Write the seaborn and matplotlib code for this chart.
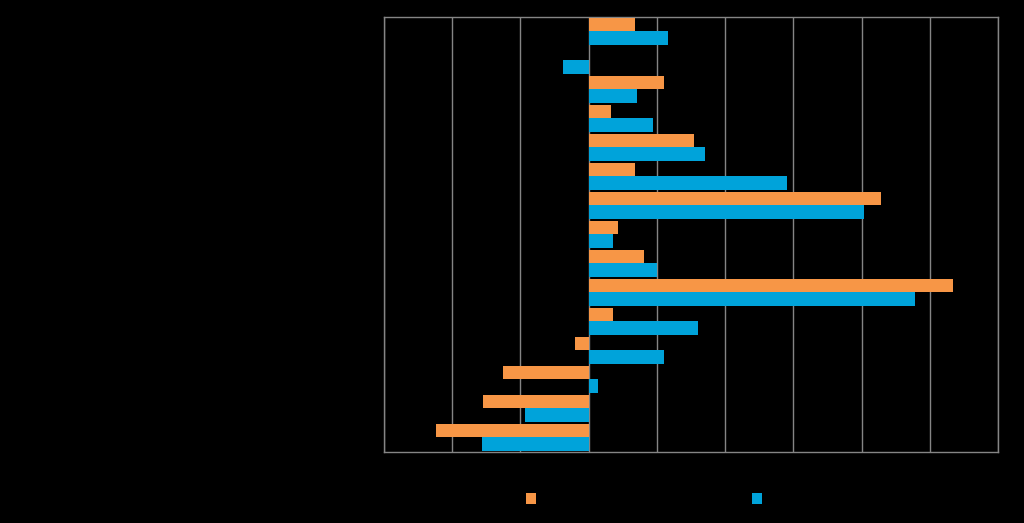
import numpy as np
import pandas as pd
import seaborn as sns
import matplotlib.pyplot as plt

# category labels and series (text in the reference is black on black)
categories = ["Kategoria 1", "Kategoria 2", "Kategoria 3", "Kategoria 4", "Kategoria 5",
              "Kategoria 6", "Kategoria 7", "Kategoria 8", "Kategoria 9", "Kategoria 10",
              "Kategoria 11", "Kategoria 12", "Kategoria 13", "Kategoria 14", "Kategoria 15"]
series_names = ["Sarja 1", "Sarja 2"]
orange_vals = [0.68, 0.0, 1.10, 0.33, 1.55, 0.68, 4.28, 0.43, 0.81, 5.34, 0.36, -0.20, -1.25, -1.55, -2.24]
blue_vals = [1.17, -0.38, 0.71, 0.95, 1.71, 2.90, 4.03, 0.35, 1.00, 4.79, 1.61, 1.10, 0.14, -0.93, -1.57]
x_ticks = [-3, -2, -1, 0, 1, 2, 3, 4, 5, 6]

df = pd.DataFrame({
    "category": categories * 2,
    "series": [series_names[0]] * len(categories) + [series_names[1]] * len(categories),
    "value": orange_vals + blue_vals,
})

sns.set_style("white")
plt.rcParams["font.family"] = ["DejaVu Sans"]

fig = plt.figure(figsize=(10.24, 5.23), dpi=100, facecolor="black")
ax = fig.add_axes([0.375, 0.1358, 0.5996, 0.8317])
ax.set_facecolor("black")

sns.barplot(data=df, y="category", x="value", hue="series", orient="h",
            palette=["#F79646", "#00A3DA"], width=0.9, gap=0, ax=ax,
            linewidth=0, saturation=1, zorder=3)

ax.set_xlim(-3, 6)
ax.set_ylim(14.5, -0.5)
ax.set_xticks(x_ticks)
ax.set_xticklabels([str(t) for t in x_ticks], color="black")
ax.tick_params(axis="both", length=0, colors="black", labelsize=10)
ax.set_xlabel("")
ax.set_ylabel("")
ax.grid(axis="x", color="#858585", lw=1, zorder=0)
for s in ax.spines.values():
    s.set_color("#858585")
    s.set_linewidth(1)

leg = ax.legend(loc="center", bbox_to_anchor=(0.656, 0.045), bbox_transform=fig.transFigure,
                ncol=2, frameon=False, handlelength=0.75, handleheight=0.9,
                columnspacing=11.5, handletextpad=0.5, fontsize=10)
for t in leg.get_texts():
    t.set_color("black")

fig.savefig("out.png", dpi=100, facecolor="black")
